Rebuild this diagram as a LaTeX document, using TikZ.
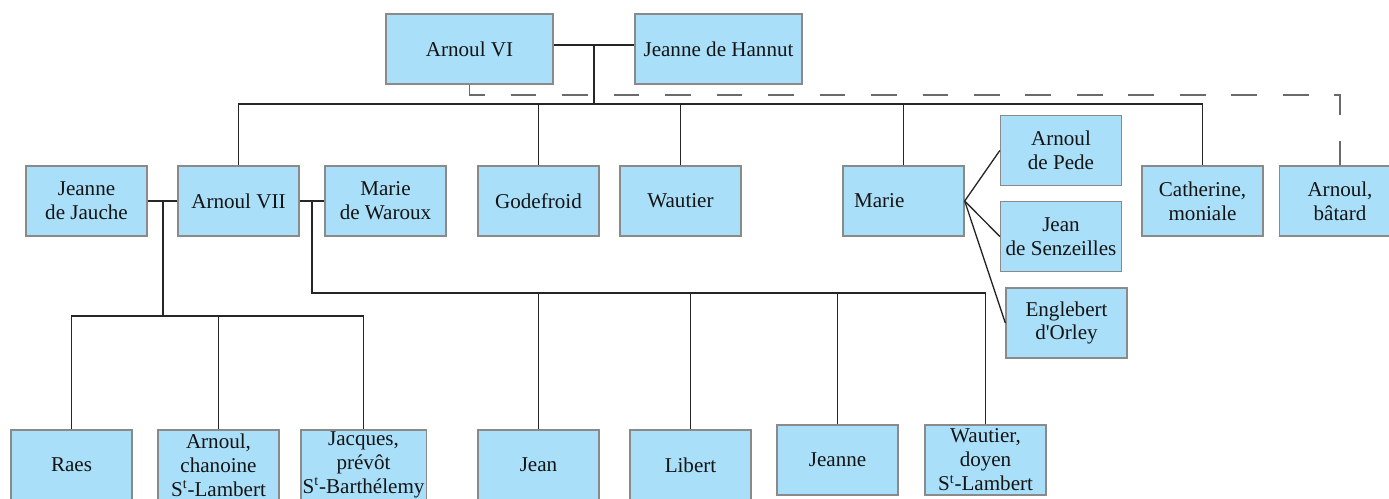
\documentclass[tikz,border=0pt]{standalone}
\usepackage{fontspec}
\setmainfont{Liberation Serif}
\usepackage{xcolor}
\usepackage{tikz}

\definecolor{boxblue}{HTML}{A9DFF9}
\definecolor{boxgray}{HTML}{8A8A8A}
\definecolor{linkgray}{HTML}{6A6A6A}

\tikzset{
  person/.style={draw=boxgray, fill=boxblue, line width=0.8pt, minimum width=2.42cm, minimum height=1.4cm,
    align=center, inner sep=1pt, text=black!92, font=\fontsize{12}{13.6}\selectfont},
  wideperson/.style={person, minimum width=3.34cm},
  link/.style={draw=black!85, line width=0.75pt},
  bastardlink/.style={draw=linkgray, line width=0.9pt, dash pattern=on 14.65pt off 14.65pt}
}

\begin{document}
\begin{tikzpicture}[x=0.02cm, y=-0.02cm]
  \useasboundingbox (0,0) rectangle (1389,498);

  % Parents
  \node[wideperson] (arnoulvi) at (469.5,49) {Arnoul VI};
  \node[wideperson] (jhannut) at (718.5,49) {Jeanne de Hannut};

  % Children of Arnoul VI
  \node[person] (jjauche) at (86.5,201) {Jeanne\\de Jauche};
  \node[person] (arnoulvii) at (238.5,201) {Arnoul VII};
  \node[person] (mwaroux) at (385.5,201) {Marie\\de Waroux};
  \node[person] (godefroid) at (538.5,201) {Godefroid};
  \node[person] (wautier) at (680.5,201) {Wautier};
  \node[person, text width=1.98cm, inner xsep=0.22cm, align=left] (marie) at (903.5,201) {Marie};
  \node[person] (catherine) at (1202.5,201) {Catherine,\\moniale};
  \node[person] (abatard) at (1340,201) {Arnoul,\\bâtard};

  % Husbands of Marie
  \node[person] (apede) at (1061,150.5) {Arnoul\\de Pede};
  \node[person] (jsenz) at (1061,236.5) {Jean\\de Senzeilles};
  \node[person] (eorley) at (1066.5,323) {Englebert\\d\textquotesingle Orley};

  % Grandchildren
  \node[person] (raes) at (71.5,465) {Raes};
  \node[person] (arnoulch) at (218.5,465) {Arnoul,\\chanoine\\S\textsuperscript{t}-Lambert};
  \node[person] (jacques) at (363.5,465) {Jacques,\\prévôt\\S\textsuperscript{t}-Barthélemy};
  \node[person] (jean) at (538.5,465) {Jean};
  \node[person] (libert) at (690.5,465) {Libert};
  \node[person] (jeanne) at (837.5,460) {Jeanne};
  \node[person] (wautierd) at (985.5,460) {Wautier,\\doyen\\S\textsuperscript{t}-Lambert};

  % Junctions
  \coordinate (couple) at (594,45);
  \coordinate (bar) at (594,104);
  \coordinate (dash) at (0,95);
  \coordinate (firstm) at (163,201);
  \coordinate (firstrow) at (0,316);
  \coordinate (secondm) at (312,201);
  \coordinate (secondrow) at (0,293);

  % Bastard line
  \draw[bastardlink] (arnoulvi.south) |- (dash -| abatard.north) -- (abatard.north);

  % Arnoul VI and Jeanne de Hannut
  \draw[link] (arnoulvi.east |- couple) -- (jhannut.west |- couple);
  \draw[link] (couple) -- (bar);
  \draw[link] (arnoulvii.north) |- (bar -| catherine.north) -- (catherine.north);
  \foreach \n in {godefroid,wautier,marie}
    \draw[link] (\n.north) -- (\n.north |- bar);

  % Marie
  \foreach \n in {apede,jsenz,eorley}
    \draw[link] (marie.east) -- (\n.west);

  % First marriage of Arnoul VII
  \draw[link] (jjauche.east) -- (arnoulvii.west);
  \draw[link] (firstm) -- (firstm |- firstrow);
  \draw[link] (raes.north) |- (firstrow -| jacques.north) -- (jacques.north);
  \draw[link] (arnoulch.north) -- (arnoulch.north |- firstrow);

  % Second marriage of Arnoul VII
  \draw[link] (arnoulvii.east) -- (mwaroux.west);
  \draw[link] (secondm) |- (secondrow -| wautierd.north) -- (wautierd.north);
  \foreach \n in {jean,libert,jeanne}
    \draw[link] (\n.north) -- (\n.north |- secondrow);
\end{tikzpicture}
\end{document}
